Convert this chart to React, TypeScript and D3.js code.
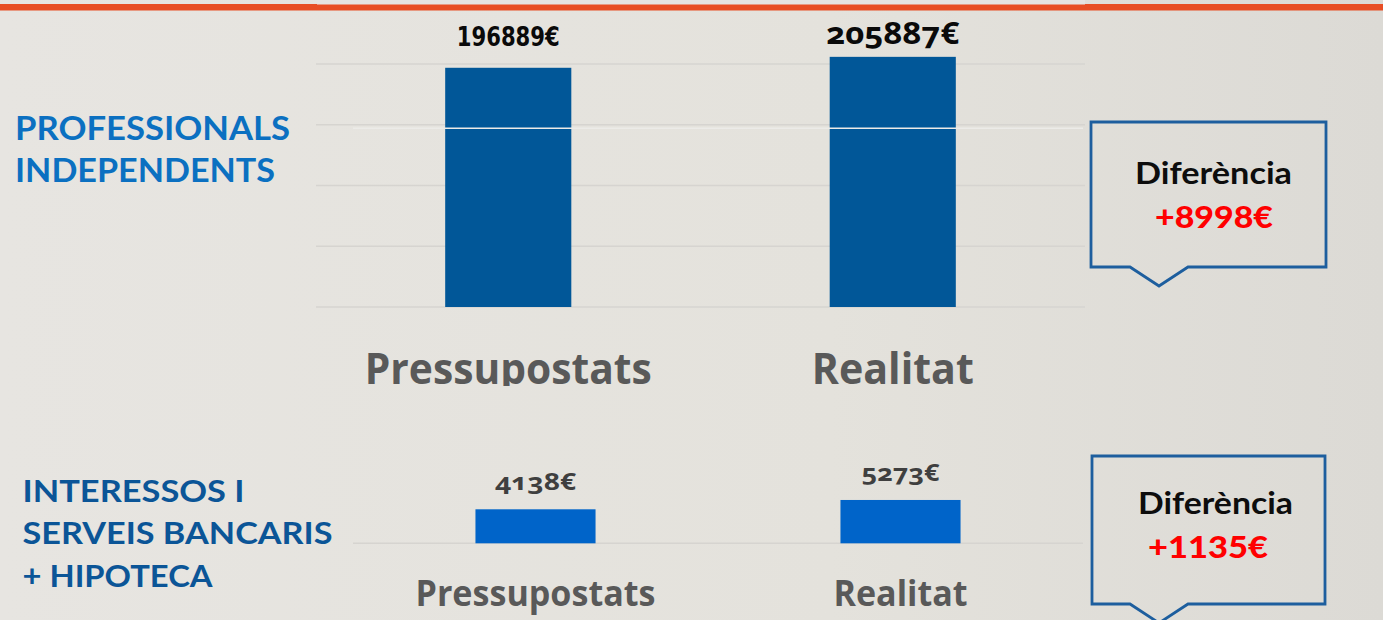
import React from "react";
import * as d3 from "d3";

const categories = ["Pressupostats", "Realitat"];
const professionalsValues = [196889, 205887];
const interessosValues = [4138, 5273];
const topTicks = [0, 50000, 100000, 150000, 200000];
const bottomTicks = [0];
const topTitle = ["PROFESSIONALS", "INDEPENDENTS"];
const bottomTitle = ["INTERESSOS I", "SERVEIS BANCARIS", "+ HIPOTECA"];
const diffLabel = "Diferència";

const W = 1383;
const H = 620;

const xTop = d3.scaleBand<string>().domain(categories).range([316, 1085]);
const yTop = d3.scaleLinear().domain([0, 200000]).range([307, 64]);
const xBot = d3.scaleBand<string>().domain(categories).range([353, 1083]);
const yBot = d3.scaleLinear().domain([0, 6000]).range([543.3, 494]);

const fmt = (v: number) => `${v}€`;
const diffFmt = (v: number) => `+${v}€`;

const SANS = "'Open Sans', 'Noto Sans', sans-serif";
const CAL = "Lato, 'Open Sans', sans-serif";

function Callout({ x0, x1, y0, y1, tipY, line1Y, line2Y, cx1, cx2, diff, w1, w2 }: any) {
  const p = d3.path();
  p.moveTo(x0, y0);
  p.lineTo(x1, y0);
  p.lineTo(x1, y1);
  p.lineTo(1188, y1);
  p.lineTo(1159, tipY);
  p.lineTo(1130, y1);
  p.lineTo(x0, y1);
  p.closePath();
  return (
    <g>
      <path d={p.toString()} fill="none" stroke="#1D5E9E" strokeWidth={2.8} strokeLinejoin="miter" />
      <text x={cx1} y={line1Y} textAnchor="middle" fontFamily={CAL} fontWeight={700} fontSize={31} fill="#0d0d0d" textLength={w1} lengthAdjust="spacingAndGlyphs">{diffLabel}</text>
      <text x={cx2} y={line2Y} textAnchor="middle" fontFamily={CAL} fontWeight={900} fontSize={31} fill="#FF0000" textLength={w2} lengthAdjust="spacingAndGlyphs">{diff}</text>
    </g>
  );
}

export default function App() {
  const topBarW = xTop.bandwidth() * 0.328;
  const botBarW = xBot.bandwidth() * 0.329;
  const topValW = [103, 133];
  const topValY = [46, 44];
  const botValW = [81, 78];
  const botValY = [490, 481];
  const topCatW = [287, 162];
  const botCatW = [240, 134];

  return (
    <svg width={W} height={H} style={{ position: "absolute", left: 0, top: 0, display: "block" }}>
      <defs>
        <linearGradient id="bg" x1="0" y1="0" x2="1" y2="0">
          <stop offset="0" stopColor="#E7E5E1" />
          <stop offset="0.6" stopColor="#E4E2DC" />
          <stop offset="1" stopColor="#DCDAD5" />
        </linearGradient>
        <clipPath id="topcat">
          <rect x={0} y={330} width={W} height={56} />
        </clipPath>
      </defs>
      <rect x={0} y={0} width={W} height={H} fill="url(#bg)" />
      <rect x={0} y={4} width={W} height={6.5} fill="#E84E24" />
      <rect x={317} y={0} width={768} height={4.5} fill="#E6E4E1" />

      {topTicks.map((t) => (
        <line key={t} x1={316} x2={1085} y1={yTop(t)} y2={yTop(t)} stroke="#D6D4D0" strokeWidth={1.6} />
      ))}
      {categories.map((c, i) => {
        const cx = xTop(c)! + xTop.bandwidth() / 2;
        return (
          <rect key={c} x={cx - topBarW / 2} y={yTop(professionalsValues[i])} width={topBarW}
            height={yTop(0) - yTop(professionalsValues[i])} fill="#015798" />
        );
      })}
      <line x1={353} x2={1083} y1={128.3} y2={128.3} stroke="#ECEBE8" strokeWidth={1.6} />
      {categories.map((c, i) => {
        const cx = xTop(c)! + xTop.bandwidth() / 2;
        return (
          <text key={c} x={cx} y={topValY[i]} textAnchor="middle"
            fontFamily={i === 0 ? "'DejaVu Sans Condensed', 'DejaVu Sans', sans-serif" : SANS}
            fontWeight={700} fontSize={i === 0 ? 27 : 30} fill="#0a0a0a"
            style={{ fontVariantNumeric: "oldstyle-nums" }}
            textLength={topValW[i]} lengthAdjust="spacingAndGlyphs">{fmt(professionalsValues[i])}</text>
        );
      })}
      <g clipPath="url(#topcat)">
        {categories.map((c, i) => {
          const cx = xTop(c)! + xTop.bandwidth() / 2;
          return (
            <text key={c} x={cx} y={384} textAnchor="middle" fontFamily={SANS} fontWeight={700}
              fontSize={43} fill="#595959" textLength={topCatW[i]} lengthAdjust="spacingAndGlyphs">{c}</text>
          );
        })}
      </g>

      {bottomTicks.map((t) => (
        <line key={t} x1={353} x2={1083} y1={yBot(t)} y2={yBot(t)} stroke="#D6D4D0" strokeWidth={1.6} />
      ))}
      {categories.map((c, i) => {
        const cx = xBot(c)! + xBot.bandwidth() / 2;
        return (
          <rect key={c} x={cx - botBarW / 2} y={yBot(interessosValues[i])} width={botBarW}
            height={yBot(0) - yBot(interessosValues[i])} fill="#0064C9" />
        );
      })}
      {categories.map((c, i) => {
        const cx = xBot(c)! + xBot.bandwidth() / 2;
        return (
          <g key={c}>
            <text x={cx} y={botValY[i]} textAnchor="middle" fontFamily={SANS} fontWeight={700}
              fontSize={24} fill="#3f3f3f" style={{ fontVariantNumeric: "oldstyle-nums" }}
              textLength={botValW[i]} lengthAdjust="spacingAndGlyphs">{fmt(interessosValues[i])}</text>
            <text x={cx} y={606} textAnchor="middle" fontFamily={SANS} fontWeight={700}
              fontSize={35} fill="#595959" textLength={botCatW[i]} lengthAdjust="spacingAndGlyphs">{c}</text>
          </g>
        );
      })}

      {topTitle.map((t, i) => (
        <text key={t} x={15} y={140 + i * 42} fontFamily={CAL} fontWeight={700} fontSize={32}
          fill="#0B70C1" textLength={i === 0 ? 275 : 260} lengthAdjust="spacingAndGlyphs">{t}</text>
      ))}
      {bottomTitle.map((t, i) => (
        <text key={t} x={22.5} y={501.5 + i * 42.5} fontFamily={CAL} fontWeight={700} fontSize={31}
          fill="#0B5597" textLength={[222, 310, 190][i]} lengthAdjust="spacingAndGlyphs">{t}</text>
      ))}

      <Callout x0={1091} x1={1326} y0={122} y1={267} tipY={286} line1Y={184} line2Y={228}
        cx1={1213.5} cx2={1214} w1={157} w2={118}
        diff={diffFmt(professionalsValues[1] - professionalsValues[0])} />
      <Callout x0={1092} x1={1325} y0={456} y1={604} tipY={623} line1Y={514} line2Y={558}
        cx1={1215.5} cx2={1208} w1={155} w2={120}
        diff={diffFmt(interessosValues[1] - interessosValues[0])} />
    </svg>
  );
}
